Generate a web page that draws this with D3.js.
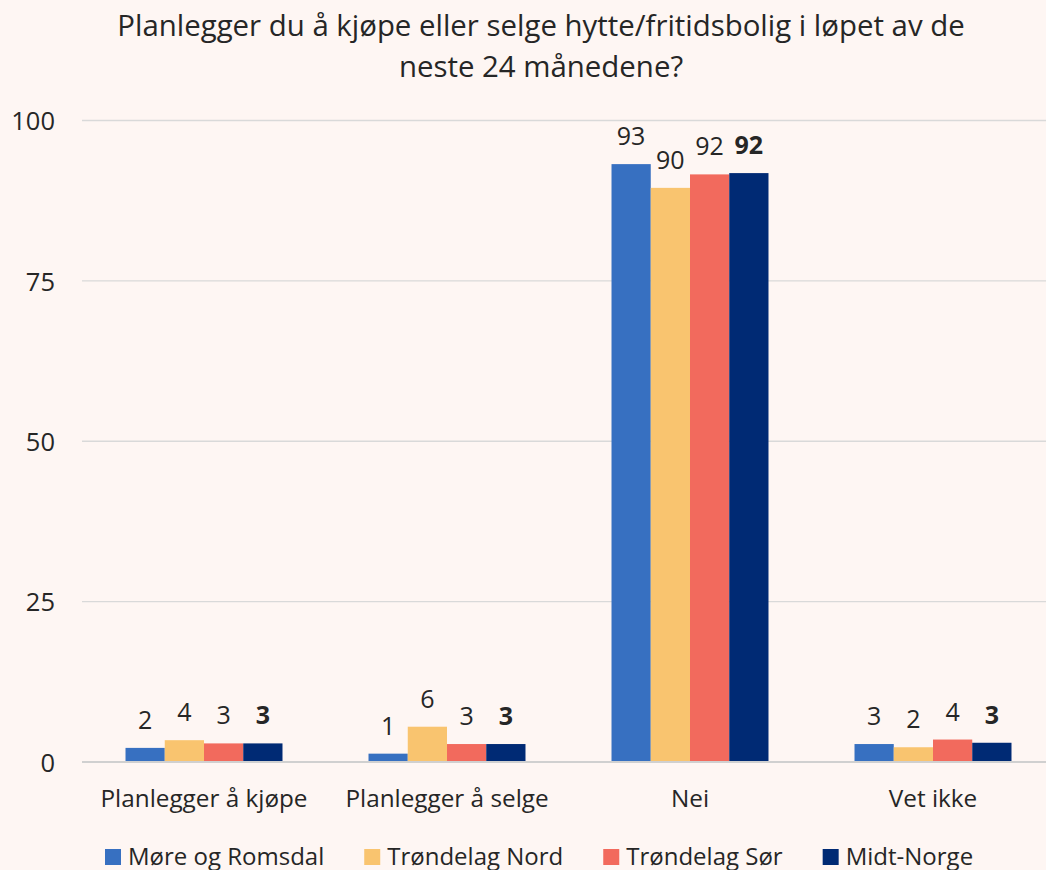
<!DOCTYPE html>
<html>
<head>
  <meta charset="UTF-8">
  <style>
    body { margin: 0; background-color: #fef6f3; font-family: "Open Sans", sans-serif; }
    svg { display: block; }
    svg text { font-family: "Open Sans", sans-serif; }
  </style>
</head>
<body>
<svg></svg>
<script src="https://d3js.org/d3.v7.min.js"></script>
<script>

let width = 1046, height = 870;

// Data
const categories = ["Planlegger å kjøpe", "Planlegger å selge", "Nei", "Vet ikke"];
const seriesNames = ["Møre og Romsdal", "Trøndelag Nord", "Trøndelag Sør", "Midt-Norge"];
const seriesColors = ["#3770c1", "#f9c46f", "#f26a5d", "#002a74"];
// bar heights
const moreValues   = [2.2, 1.3, 93.2, 2.8];
const nordValues   = [3.4, 5.5, 89.5, 2.3];
const sorValues    = [2.9, 2.8, 91.6, 3.5];
const midtValues   = [2.9, 2.8, 91.8, 3.0];
// labels as printed
const moreLabels = [2, 1, 93, 3];
const nordLabels = [4, 6, 90, 2];
const sorLabels  = [3, 3, 92, 4];
const midtLabels = [3, 3, 92, 3];
const yTicks = [0, 25, 50, 75, 100];

const values = [moreValues, nordValues, sorValues, midtValues];
const labels = [moreLabels, nordLabels, sorLabels, midtLabels];

let svg = d3.select("svg").attr("width", width).attr("height", height);

let margin = {left: 82, right: 0, top: 120.5, bottom: 108};

// plot area runs past the right edge of the picture a bit
let x = d3.scaleBand()
    .domain(categories)
    .range([82.5, 1054.5])
    .paddingInner(0.354).paddingOuter(0.177);

let xs = d3.scaleBand().domain(d3.range(4)).range([0, x.bandwidth()]);

let y = d3.scaleLinear().domain([0, 100]).range([height - margin.bottom, margin.top]);

// Title
svg.append("text")
    .attr("text-anchor", "middle")
    .attr("font-size", "29.4px")
    .attr("fill", "#262626")
    .selectAll("tspan")
    .data(["Planlegger du å kjøpe eller selge hytte/fritidsbolig i løpet av de", "neste 24 månedene?"])
    .join("tspan")
    .attr("x", 541)
    .attr("y", (d, i) => 36 + i * 41)
    .text(d => d);

// Grid
svg.append("g")
    .selectAll("line")
    .data(yTicks.filter(d => d > 0))
    .join("line")
    .attr("x1", margin.left).attr("x2", width)
    .attr("y1", d => y(d)).attr("y2", d => y(d))
    .attr("stroke", "#d9d9d9").attr("stroke-width", 1.3);

// Y axis
let yAxis = svg.append("g")
    .attr("transform", `translate(55,0)`)
    .call(d3.axisLeft(y).tickValues(yTicks).tickSize(0).tickPadding(0));
yAxis.select(".domain").remove();
yAxis.selectAll("text")
    .attr("font-size", "25.5px")
    .attr("font-family", "'Open Sans', sans-serif")
    .attr("fill", "#262626")
    .attr("dy", "0.36em");

// Bars
let groups = svg.append("g")
    .selectAll("g")
    .data(categories)
    .join("g")
    .attr("transform", d => `translate(${x(d)},0)`);

groups.selectAll("rect")
    .data((c, ci) => values.map((s, si) => ({si, v: s[ci], l: labels[si][ci]})))
    .join("rect")
    .attr("x", d => xs(d.si))
    .attr("width", xs.bandwidth())
    .attr("y", d => y(d.v))
    .attr("height", d => y(0) - y(d.v))
    .attr("fill", d => seriesColors[d.si]);

groups.selectAll("text")
    .data((c, ci) => values.map((s, si) => ({si, v: s[ci], l: labels[si][ci]})))
    .join("text")
    .attr("x", d => xs(d.si) + xs.bandwidth() / 2)
    .attr("y", d => y(d.v) - 19)
    .attr("text-anchor", "middle")
    .attr("font-size", "25px")
    .attr("font-weight", d => d.si === 3 ? "bold" : "normal")
    .attr("fill", "#262626")
    .text(d => d.l);

// X axis line
svg.append("line")
    .attr("x1", margin.left).attr("x2", width)
    .attr("y1", y(0)).attr("y2", y(0))
    .attr("stroke", "#d0d0d0").attr("stroke-width", 2);

let xAxis = svg.append("g")
    .attr("transform", `translate(0,${y(0)})`)
    .call(d3.axisBottom(x).tickSize(0));
xAxis.select(".domain").remove();
xAxis.selectAll("text")
    .attr("y", 45).attr("dy", 0)
    .attr("font-size", "24.3px")
    .attr("font-family", "'Open Sans', sans-serif")
    .attr("fill", "#262626");

// Legend
let legend = svg.append("g").attr("transform", "translate(0,857)");
let lx = 105;
seriesNames.forEach((name, i) => {
  let item = legend.append("g").attr("transform", `translate(${lx},0)`);
  item.append("rect")
      .attr("x", 0).attr("y", -8).attr("width", 16).attr("height", 16)
      .attr("fill", seriesColors[i]);
  let t = item.append("text")
      .attr("x", 23).attr("y", 7.5)
      .attr("font-size", "24px")
      .attr("fill", "#262626")
      .text(name);
  lx += 23 + t.node().getComputedTextLength() + 40;
});

</script>
</body>
</html>
